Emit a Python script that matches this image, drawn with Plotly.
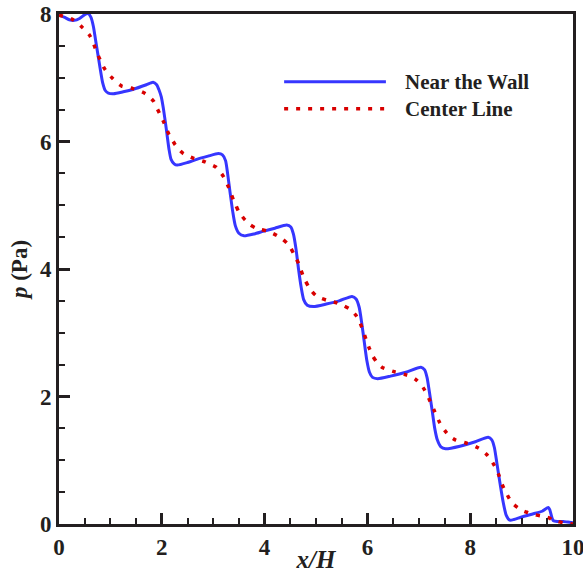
import plotly.graph_objects as go

# Near the Wall (blue solid)
wall_x = [0.00, 0.10, 0.20, 0.30, 0.40, 0.50, 0.56, 0.62, 0.67, 0.71, 0.75, 0.80, 0.85, 0.90, 0.96,
          1.06, 1.25, 1.45, 1.70, 1.83, 1.90, 1.95, 1.99, 2.03, 2.07, 2.10, 2.14, 2.18, 2.24, 2.30,
          2.50, 2.68, 2.90, 3.10, 3.18, 3.24, 3.28, 3.33, 3.38, 3.43, 3.50, 3.60, 3.80, 3.97, 4.20,
          4.43, 4.51, 4.56, 4.61, 4.66, 4.71, 4.76, 4.83, 4.95, 5.20, 5.45, 5.70, 5.78, 5.84, 5.89,
          5.94, 5.99, 6.04, 6.10, 6.20, 6.45, 6.75, 7.04, 7.11, 7.16, 7.21, 7.26, 7.31, 7.36, 7.43,
          7.52, 7.80, 8.10, 8.35, 8.42, 8.47, 8.52, 8.58, 8.64, 8.70, 8.77, 8.85, 9.00, 9.23, 9.40,
          9.52, 9.55, 9.59, 9.62, 9.70, 9.81, 9.90, 10.00]
wall_p = [7.98, 7.95, 7.91, 7.90, 7.93, 7.99, 8.01, 7.95, 7.80, 7.60, 7.40, 7.15, 6.92, 6.80, 6.76,
          6.75, 6.78, 6.82, 6.89, 6.93, 6.89, 6.80, 6.70, 6.52, 6.30, 6.12, 5.88, 5.72, 5.65, 5.63,
          5.67, 5.72, 5.77, 5.81, 5.79, 5.70, 5.50, 5.19, 4.90, 4.68, 4.56, 4.52, 4.55, 4.59, 4.64,
          4.69, 4.66, 4.55, 4.32, 4.00, 3.72, 3.52, 3.43, 3.41, 3.45, 3.50, 3.57, 3.53, 3.40, 3.15,
          2.85, 2.56, 2.38, 2.30, 2.28, 2.32, 2.38, 2.46, 2.42, 2.30, 2.05, 1.78, 1.50, 1.32, 1.21,
          1.18, 1.22, 1.29, 1.36, 1.32, 1.20, 0.95, 0.64, 0.35, 0.14, 0.06, 0.07, 0.11, 0.16, 0.20,
          0.26, 0.22, 0.10, 0.05, 0.04, 0.04, 0.03, 0.02]

# Center Line (red dotted)
center_x = [0.00, 0.12, 0.25, 0.35, 0.44, 0.52, 0.60, 0.66, 0.72, 0.80, 0.88, 0.96, 1.03, 1.12, 1.22,
            1.33, 1.44, 1.55, 1.66, 1.75, 1.84, 1.92, 1.98, 2.04, 2.09, 2.14, 2.20, 2.26, 2.34, 2.42,
            2.52, 2.61, 2.72, 2.84, 2.95, 3.05, 3.13, 3.20, 3.25, 3.30, 3.35, 3.39, 3.44, 3.49, 3.55,
            3.62, 3.71, 3.81, 3.92, 4.03, 4.13, 4.23, 4.33, 4.43, 4.50, 4.56, 4.61, 4.66, 4.70, 4.74,
            4.79, 4.85, 4.92, 4.99, 5.10, 5.25, 5.40, 5.55, 5.68, 5.78, 5.86, 5.92, 5.98, 6.04, 6.10,
            6.18, 6.28, 6.40, 6.52, 6.63, 6.75, 6.86, 6.95, 7.04, 7.10, 7.15, 7.20, 7.25, 7.30, 7.35,
            7.40, 7.46, 7.53, 7.61, 7.71, 7.82, 7.92, 8.03, 8.14, 8.24, 8.32, 8.40, 8.46, 8.52, 8.56,
            8.60, 8.65, 8.70, 8.76, 8.83, 8.92, 9.02, 9.12, 9.23, 9.36, 9.49, 9.55, 9.60, 9.65, 9.71,
            9.80, 9.90, 10.00]
center_p = [7.98, 7.96, 7.92, 7.87, 7.80, 7.74, 7.66, 7.56, 7.43, 7.28, 7.15, 7.06, 7.00, 6.93, 6.87,
            6.85, 6.83, 6.80, 6.76, 6.71, 6.63, 6.50, 6.40, 6.30, 6.20, 6.11, 6.03, 5.95, 5.87, 5.81,
            5.77, 5.74, 5.71, 5.68, 5.64, 5.60, 5.53, 5.45, 5.37, 5.28, 5.18, 5.09, 5.00, 4.91, 4.84,
            4.77, 4.70, 4.65, 4.62, 4.60, 4.57, 4.53, 4.48, 4.41, 4.34, 4.25, 4.17, 4.09, 4.00, 3.91,
            3.82, 3.73, 3.65, 3.59, 3.54, 3.50, 3.47, 3.42, 3.36, 3.27, 3.15, 3.02, 2.88, 2.75, 2.64,
            2.54, 2.46, 2.42, 2.39, 2.37, 2.34, 2.31, 2.26, 2.19, 2.12, 2.04, 1.96, 1.87, 1.78, 1.69,
            1.60, 1.52, 1.44, 1.37, 1.32, 1.29, 1.27, 1.24, 1.20, 1.15, 1.09, 1.01, 0.93, 0.85, 0.76,
            0.66, 0.57, 0.49, 0.40, 0.32, 0.26, 0.21, 0.18, 0.15, 0.13, 0.11, 0.09, 0.06, 0.05, 0.04,
            0.02, 0.01, 0.00]

x_ticks = [0, 2, 4, 6, 8, 10]
y_ticks = [0, 2, 4, 6, 8]
series_names = ["Near the Wall", "Center Line"]

BLUE = "#3636ff"
RED = "#d80000"
INK = "#231f20"
FONT = "Liberation Serif"

fig = go.Figure()
fig.add_trace(go.Scatter(x=wall_x, y=wall_p, mode="lines", name=series_names[0],
                         line=dict(color=BLUE, width=3, shape="spline", smoothing=0.6),
                         showlegend=False))
fig.add_trace(go.Scatter(x=center_x, y=center_p, mode="lines", name=series_names[1],
                         line=dict(color=RED, width=3.5, dash="4px,8px", shape="spline", smoothing=0.6),
                         showlegend=False))

# custom legend (long sample lines as in the reference)
leg_x0, leg_x1, leg_tx = 0.438, 0.636, 0.669
leg_y = [0.867, 0.814]
fig.add_shape(type="line", xref="paper", yref="paper", x0=leg_x0, x1=leg_x1, y0=leg_y[0], y1=leg_y[0],
              line=dict(color=BLUE, width=3))
fig.add_shape(type="line", xref="paper", yref="paper", x0=leg_x0, x1=leg_x1, y0=leg_y[1], y1=leg_y[1],
              line=dict(color=RED, width=3.5, dash="4px,8px"))
for name, yy in zip(series_names, leg_y):
    fig.add_annotation(xref="paper", yref="paper", x=leg_tx, y=yy, xanchor="left", yanchor="middle",
                       text="<b>%s</b>" % name, showarrow=False,
                       font=dict(family=FONT, size=21, color=INK))

axis_common = dict(
    showgrid=False, zeroline=False, showline=True, linecolor=INK, linewidth=3, mirror=True,
    ticks="inside", ticklen=11, tickwidth=2.5, tickcolor=INK, ticklabeloverflow="allow",
    tickfont=dict(family=FONT, size=23, color=INK, weight="bold"),
)
fig.update_xaxes(range=[0, 10], tickvals=x_ticks, ticktext=[str(v) for v in x_ticks],
                 minor=dict(ticks="inside", ticklen=6, tickwidth=1.5, tickcolor=INK, dtick=0.5),
                 title=dict(text="<b><i>x/H</i></b>", font=dict(family=FONT, size=25, color=INK), standoff=0),
                 **axis_common)
fig.update_yaxes(range=[0, 8], tickvals=y_ticks, ticktext=[str(v) for v in y_ticks],
                 minor=dict(ticks="inside", ticklen=6, tickwidth=1.5, tickcolor=INK, dtick=0.5),
                 title=dict(text="<b><i>p</i> (Pa)</b>", font=dict(family=FONT, size=23, color=INK), standoff=6),
                 **axis_common)

fig.update_layout(
    width=583, height=573,
    margin=dict(l=59, r=10, t=14, b=49, autoexpand=False),
    plot_bgcolor="white", paper_bgcolor="white",
    showlegend=False,
)
fig.write_html("out.html")
